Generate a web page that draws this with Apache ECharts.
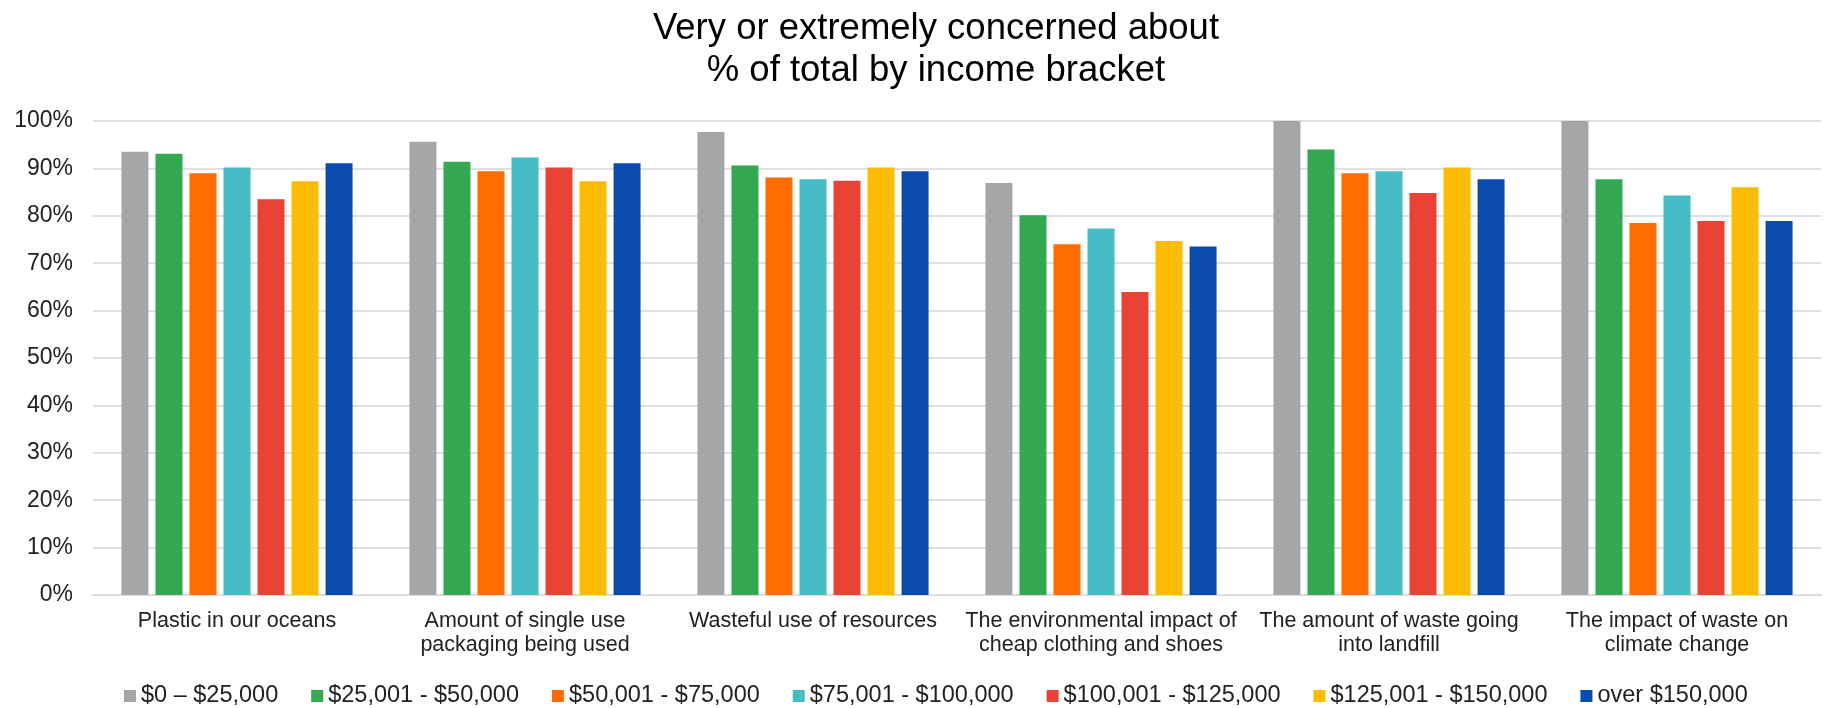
<!DOCTYPE html>
<html>
<head>
<meta charset="utf-8">
<script src="https://cdn.jsdelivr.net/npm/echarts@6/dist/echarts.min.js"></script>
<style>
  html, body { margin: 0; padding: 0; background: #ffffff; }
  #chart { width: 1825px; height: 708px; }
</style>
</head>
<body>
<div id="chart"></div>
<script>
const titleText = 'Very or extremely concerned about\n% of total by income bracket';

const categories = [
  'Plastic in our oceans',
  'Amount of single use\npackaging being used',
  'Wasteful use of resources',
  'The environmental impact of\ncheap clothing and shoes',
  'The amount of waste going\ninto landfill',
  'The impact of waste on\nclimate change'
];

const seriesNames = [
  '$0 \u2013 $25,000',
  '$25,001 - $50,000',
  '$50,001 - $75,000',
  '$75,001 - $100,000',
  '$100,001 - $125,000',
  '$125,001 - $150,000',
  'over $150,000'
];

const seriesColors = ['#A6A6A6', '#34A853', '#FF6D01', '#46BDC6', '#EA4335', '#FBBC04', '#0B4BB0'];

// values in percent, one array per income bracket
const bracket0to25k     = [93.5, 95.6, 97.7, 86.9, 100.0, 100.0];
const bracket25to50k    = [93.1, 91.4, 90.6, 80.1, 94.0, 87.7];
const bracket50to75k    = [89.0, 89.4, 88.1, 74.0, 89.0, 78.5];
const bracket75to100k   = [90.2, 92.3, 87.7, 77.3, 89.4, 84.3];
const bracket100to125k  = [83.5, 90.2, 87.4, 63.9, 84.8, 78.9];
const bracket125to150k  = [87.3, 87.3, 90.2, 74.7, 90.2, 86.0];
const bracketOver150k   = [91.1, 91.1, 89.4, 73.5, 87.7, 78.9];

const seriesValues = [
  bracket0to25k, bracket25to50k, bracket50to75k, bracket75to100k,
  bracket100to125k, bracket125to150k, bracketOver150k
];

const yTicks = { min: 0, max: 100, interval: 10 };

const FONT = '"Liberation Sans", Arial, sans-serif';
const chart = echarts.init(document.getElementById('chart'), null, { renderer: 'canvas' });

const series = seriesNames.map((name, i) => ({
  name: name,
  type: 'bar',
  data: seriesValues[i],
  barWidth: 27,
  barGap: '26%',
  itemStyle: { color: seriesColors[i] },
  emphasis: { disabled: true }
}));

chart.setOption({
  animation: false,
  backgroundColor: '#ffffff',
  title: {
    text: titleText,
    left: 931,
    textAlign: 'center',
    top: 3,
    textStyle: {
      fontFamily: FONT,
      fontSize: 36.5,
      fontWeight: 'normal',
      color: '#000000',
      lineHeight: 42
    }
  },
  legend: {
    data: seriesNames,
    left: 119,
    top: 679,
    itemWidth: 12,
    itemHeight: 12,
    itemGap: 33,
    icon: 'rect',
    textStyle: { fontFamily: FONT, fontSize: 23.5, color: '#222222' }
  },
  grid: {
    left: 93,
    right: 4,
    top: 121,
    bottom: 113,
    containLabel: false
  },
  xAxis: {
    type: 'category',
    data: categories,
    axisLine: { show: true, lineStyle: { color: '#dddddd', width: 2 } },
    axisTick: { show: false },
    axisLabel: {
      interval: 0,
      margin: 14,
      fontFamily: FONT,
      fontSize: 21.5,
      lineHeight: 24,
      color: '#222222',
      align: 'center'
    }
  },
  yAxis: {
    type: 'value',
    min: yTicks.min,
    max: yTicks.max,
    interval: yTicks.interval,
    axisLine: { show: false },
    axisTick: { show: false },
    splitLine: { show: true, lineStyle: { color: '#e0e0e0', width: 2 } },
    axisLabel: {
      formatter: '{value}%',
      margin: 20,
      fontFamily: FONT,
      fontSize: 23,
      color: '#222222'
    }
  },
  series: series
});
</script>
</body>
</html>
